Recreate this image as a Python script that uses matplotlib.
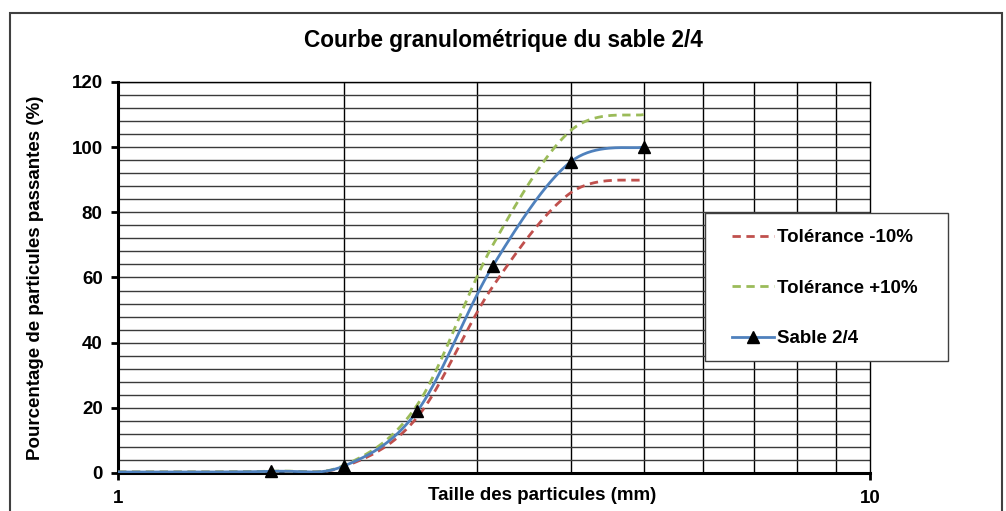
import numpy as np
import matplotlib
matplotlib.use("Agg")
import matplotlib.pyplot as plt
from matplotlib.patches import Rectangle
from matplotlib import ticker as mticker

plt.rcParams['font.family'] = ['Liberation Sans', 'DejaVu Sans']

# sieve sizes (mm) and passing percentages
tailles = [1.0, 1.6, 2.0, 2.5, 3.15, 4.0, 5.0]
sable = [0.3, 0.5, 2.2, 19.0, 63.5, 95.5, 100.0]
tol_moins = [0.27, 0.45, 2.0, 17.1, 57.2, 86.0, 90.0]
tol_plus = [0.33, 0.55, 2.4, 20.9, 69.9, 105.1, 110.0]

y_ticks = [0, 20, 40, 60, 80, 100, 120]
x_ticks = [1, 10]


def smooth(x, y, n=40):
    # Excel-like smoothed line: cubic bezier through the points, in log-x space
    u = np.log10(np.asarray(x, float))
    v = np.asarray(y, float)
    P = np.column_stack([u, v])
    out = []
    for i in range(len(P) - 1):
        p0 = P[i - 1] if i > 0 else P[i]
        p1, p2 = P[i], P[i + 1]
        p3 = P[i + 2] if i + 2 < len(P) else P[i + 1]
        c1 = p1 + (p2 - p0) / 6.0
        c2 = p2 - (p3 - p1) / 6.0
        t = np.linspace(0, 1, n)[:, None]
        seg = ((1 - t) ** 3) * p1 + 3 * ((1 - t) ** 2) * t * c1 + 3 * (1 - t) * t ** 2 * c2 + t ** 3 * p2
        out.append(seg if i == 0 else seg[1:])
    out = np.vstack(out)
    return 10 ** out[:, 0], out[:, 1]


fig = plt.figure(figsize=(10.06, 5.11), dpi=100)
ax = fig.add_axes([0.1173, 0.0744, 0.7475, 0.7652])

c_red = '#C0504D'
c_green = '#9BBB59'
c_blue = '#4F81BD'

xs, ys = smooth(tailles, tol_moins)
p1, = ax.plot(xs, ys, '--', color=c_red, lw=2, dashes=(3, 2), label='Tolérance -10%', zorder=3)
xs, ys = smooth(tailles, tol_plus)
p2, = ax.plot(xs, ys, '--', color=c_green, lw=2, dashes=(3, 2), label='Tolérance +10%', zorder=3)
xs, ys = smooth(tailles, sable)
ax.plot(xs, ys, '-', color=c_blue, lw=2, zorder=4)
ax.plot(tailles[1:], sable[1:], '^', color='black', ms=8, zorder=5, clip_on=False)
p3, = ax.plot([], [], '-', color=c_blue, lw=2, marker='^', mfc='black', mec='black', ms=8,
              label='Sable 2/4')

ax.set_xscale('log')
ax.set_xlim(1, 10)
ax.set_ylim(0, 120)
ax.set_yticks(y_ticks)
ax.yaxis.set_minor_locator(mticker.MultipleLocator(4))
ax.set_xticks(x_ticks)
ax.xaxis.set_major_formatter(mticker.FuncFormatter(lambda v, p: '%d' % v))
ax.xaxis.set_minor_locator(mticker.LogLocator(base=10, subs=np.arange(2, 10)))
ax.xaxis.set_minor_formatter(mticker.NullFormatter())

ax.grid(True, which='both', axis='y', color='#3a3a3a', lw=1.0, zorder=1)
ax.grid(True, which='minor', axis='x', color='black', lw=1.0, zorder=1)
ax.set_axisbelow(True)

ax.tick_params(axis='both', which='major', direction='out', length=5, width=2,
               labelsize=13.5, pad=6)
ax.tick_params(axis='x', which='major', pad=7)
ax.tick_params(axis='both', which='minor', length=0)
for lab in ax.get_xticklabels() + ax.get_yticklabels():
    lab.set_fontweight('bold')

ax.spines['left'].set_linewidth(2.2)
ax.spines['bottom'].set_linewidth(2.2)
ax.spines['top'].set_linewidth(1.0)
ax.spines['right'].set_linewidth(1.0)

ax.set_ylabel('Pourcentage de particules passantes (%)', fontsize=13.5, fontweight='bold')
ax.yaxis.set_label_coords(-0.11, 0.5)
ax.yaxis.label.set_verticalalignment('center')
ax.set_xlabel('Taille des particules (mm)', fontsize=13.5, fontweight='bold')
ax.xaxis.set_label_coords(0.564, -0.058)
ax.xaxis.label.set_verticalalignment('center')

fig.text(0.5, 0.921, 'Courbe granulométrique du sable 2/4', ha='center', va='center',
         fontsize=16.3, fontweight='bold')

# chart outer frame
fig.patches.append(Rectangle((10 / 1006, -0.05), 992 / 1006, (511 - 13) / 511 + 0.05,
                             transform=fig.transFigure, fill=False, ec='#404040', lw=1.5))
# legend box
fig.patches.append(Rectangle((705 / 1006, (511 - 361) / 511), 243 / 1006, 148 / 511,
                             transform=fig.transFigure, fc='white', ec='#404040', lw=1.0,
                             zorder=2))
fig.legend(handles=[p1, p2, p3], loc='upper left',
           bbox_to_anchor=(732 / 1006, (511 - 229) / 511), frameon=False,
           prop={'size': 13.5, 'weight': 'bold'}, labelspacing=1.78, handlelength=2.25,
           handletextpad=0.15, borderpad=0, borderaxespad=0)

fig.savefig('out.png', dpi=100)
